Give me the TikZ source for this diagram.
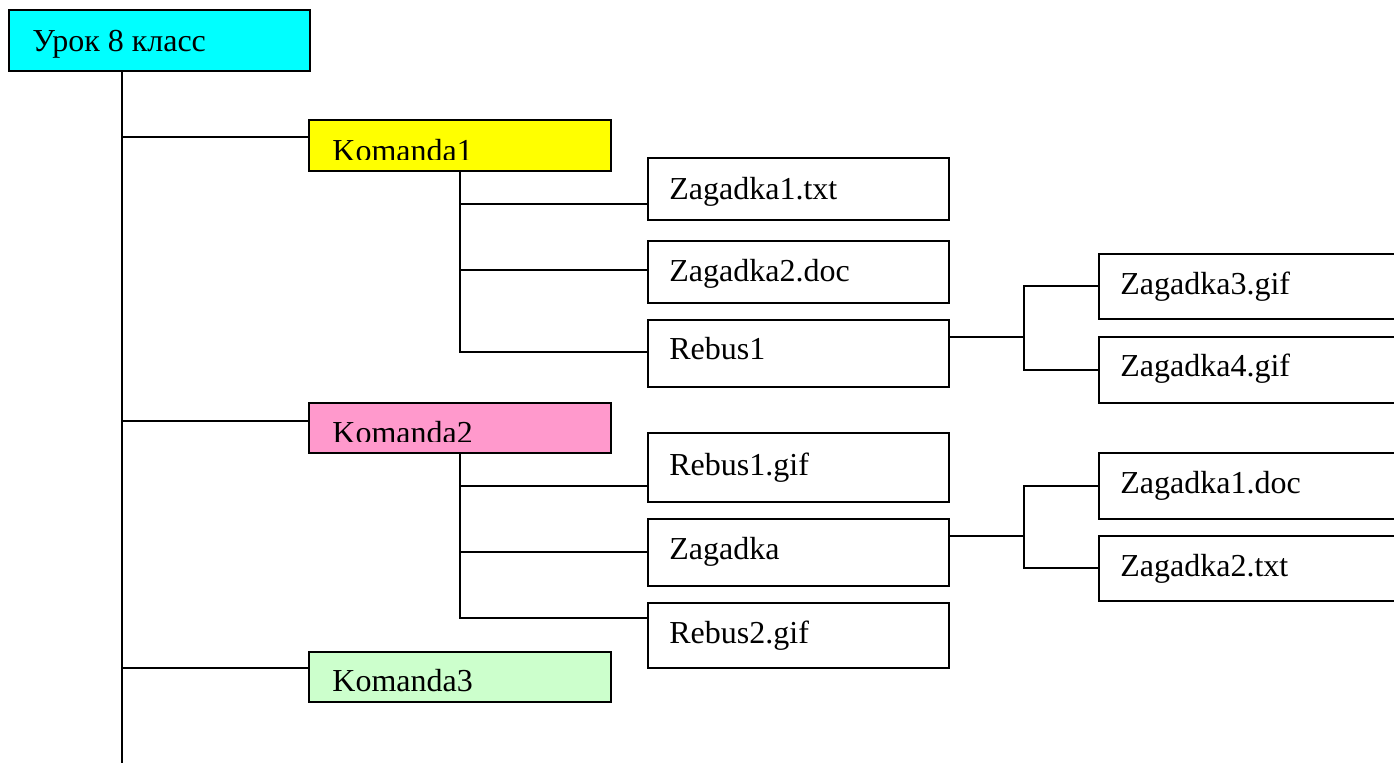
\documentclass[tikz,border=0pt]{standalone}
\usepackage{fontspec}
\setmainfont{Liberation Serif}
\definecolor{cUrok}{HTML}{00FFFF}
\definecolor{cK1}{HTML}{FFFF00}
\definecolor{cK2}{HTML}{FF99CC}
\definecolor{cK3}{HTML}{CCFFCC}
\tikzset{
  bx/.style={draw, line width=1pt, inner sep=0pt, outer sep=0pt, anchor=north west},
  lbl/.style={anchor=base west, inner sep=0pt, font=\fontsize{16}{19}\selectfont},
  conn/.style={line width=1pt}
}
\newcommand\fbx[6]{\node[bx, fill=#6, minimum width=#4*0.5pt, minimum height=#5*0.5pt] (#1) at (#2,#3) {};}
\begin{document}
\begin{tikzpicture}[x=0.5pt, y=-0.5pt]
\useasboundingbox (0,0) rectangle (1394,763);
\clip (0,0) rectangle (1394,763);
% boxes
\fbx{urok}{9}{10}{301}{61}{cUrok}
\fbx{k1}{309}{120}{302}{51}{cK1}
\fbx{k2}{309}{403}{302}{50}{cK2}
\fbx{k3}{309}{652}{302}{50}{cK3}
\fbx{z1txt}{648}{158}{301}{62}{white}
\fbx{z2doc}{648}{241}{301}{62}{white}
\fbx{r1}{648}{320}{301}{67}{white}
\fbx{r1gif}{648}{433}{301}{69}{white}
\fbx{zag}{648}{519}{301}{67}{white}
\fbx{r2gif}{648}{603}{301}{65}{white}
\fbx{z3gif}{1099}{254}{320}{65}{white}
\fbx{z4gif}{1099}{337}{320}{66}{white}
\fbx{z1doc}{1099}{453}{320}{66}{white}
\fbx{z2txt}{1099}{536}{320}{65}{white}
% labels
\node[lbl] (turok) at (32,52) {Урок 8 класс};
\begin{scope}
\clip (309,120) rectangle (611,160);
\node[lbl] (tk1) at (332,162) {Komanda1};
\end{scope}
\begin{scope}
\clip (309,403) rectangle (611,442);
\node[lbl] (tk2) at (332,444) {Komanda2};
\end{scope}
\node[lbl] (tk3) at (332,692) {Komanda3};
\node[lbl] (tz1txt) at (669,200) {Zagadka1.txt};
\node[lbl] (tz2doc) at (669,282) {Zagadka2.doc};
\node[lbl] (tr1) at (669,360) {Rebus1};
\node[lbl] (tr1gif) at (669,476) {Rebus1.gif};
\node[lbl] (tzag) at (669,560) {Zagadka};
\node[lbl] (tr2gif) at (669,644) {Rebus2.gif};
\node[lbl] (tz3gif) at (1120,295) {Zagadka3.gif};
\node[lbl] (tz4gif) at (1120,377) {Zagadka4.gif};
\node[lbl] (tz1doc) at (1120,494) {Zagadka1.doc};
\node[lbl] (tz2txt) at (1120,577) {Zagadka2.txt};
% connectors
\coordinate (tr) at (122,763);
\coordinate (b1) at (460,0);
\coordinate (b2) at (1024,0);
\draw[conn] (tr |- urok.south) -- (tr);
\draw[conn] (tr |- 0,137) -- (k1.west |- 0,137);
\draw[conn] (tr |- 0,421) -- (k2.west |- 0,421);
\draw[conn] (tr |- 0,668) -- (k3.west |- 0,668);
% Komanda1 branch
\draw[conn] (b1 |- k1.south) |- (r1.west |- 0,352);
\draw[conn] (b1 |- 0,204) -- (z1txt.west |- 0,204);
\draw[conn] (b1 |- 0,270) -- (z2doc.west |- 0,270);
\draw[conn] (r1.east |- 0,337) -- (b2 |- 0,337);
\draw[conn] (z3gif.west) -| (b2 |- 0,337) |- (z4gif.west);
% Komanda2 branch
\draw[conn] (b1 |- k2.south) |- (r2gif.west |- 0,618);
\draw[conn] (b1 |- 0,486) -- (r1gif.west |- 0,486);
\draw[conn] (b1 |- 0,552) -- (zag.west |- 0,552);
\draw[conn] (zag.east |- 0,536) -- (b2 |- 0,536);
\draw[conn] (z1doc.west) -| (b2 |- 0,536) |- (z2txt.west);
\end{tikzpicture}
\end{document}
